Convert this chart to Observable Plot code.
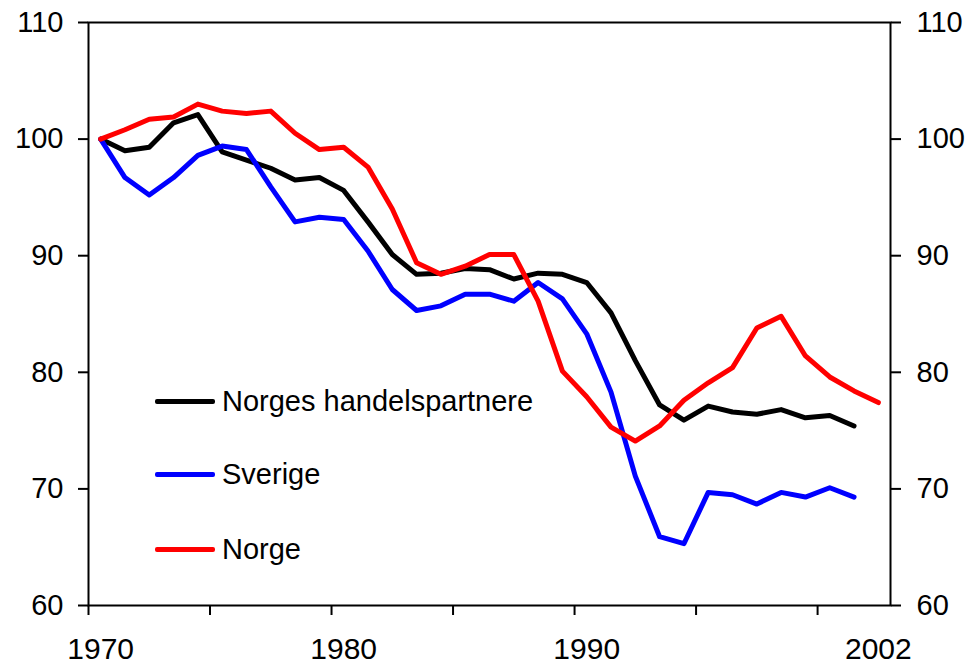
<!DOCTYPE html>
<html><head><meta charset="utf-8">
<script src="https://cdn.jsdelivr.net/npm/d3@7"></script>
<script src="https://cdn.jsdelivr.net/npm/@observablehq/plot@0.6"></script>
<style>
body{margin:0;background:#fff;}
#wrap{position:relative;width:972px;height:664px;font-family:"Liberation Sans",Arial,sans-serif;}
.leg{position:absolute;left:155px;display:flex;align-items:center;font-size:29px;line-height:1;color:#000;}
.leg .sw{display:inline-block;width:60px;height:5px;margin-right:7px;border-radius:2px;}
</style></head><body><div id="wrap"></div>
<script>
const startYear = 1970;
const endYear = 2002;
const seriesNames = ["Norges handelspartnere", "Sverige", "Norge"];
const seriesColors = ["#000000", "#0000ff", "#ff0000"];
const handelspartnere = [100.0, 99.0, 99.3, 101.4, 102.1, 98.9, 98.2, 97.5, 96.5, 96.7, 95.6, 92.9, 90.1, 88.4, 88.5, 88.9, 88.8, 88.0, 88.5, 88.4, 87.7, 85.1, 81.0, 77.2, 75.9, 77.1, 76.6, 76.4, 76.8, 76.1, 76.3, 75.4];
const sverige = [100.0, 96.7, 95.2, 96.7, 98.6, 99.4, 99.1, 95.9, 92.9, 93.3, 93.1, 90.4, 87.1, 85.3, 85.7, 86.7, 86.7, 86.1, 87.7, 86.3, 83.3, 78.3, 71.1, 65.9, 65.3, 69.7, 69.5, 68.7, 69.7, 69.3, 70.1, 69.3];
const norge = [100.0, 100.8, 101.7, 101.9, 103.0, 102.4, 102.2, 102.4, 100.5, 99.1, 99.3, 97.6, 94.0, 89.4, 88.4, 89.1, 90.1, 90.1, 86.1, 80.1, 77.9, 75.3, 74.1, 75.4, 77.6, 79.1, 80.4, 83.8, 84.8, 81.4, 79.6, 78.4, 77.4];
const yTicks = [60, 70, 80, 90, 100, 110];
const xLabels = [1970, 1980, 1990, 2002];

const seriesValues = [handelspartnere, sverige, norge];
const data = [];
seriesValues.forEach((vals, s) => vals.forEach((v, i) => data.push({year: startYear + i, value: v, series: seriesNames[s]})));
const boundaries = d3.range(startYear - 0.5, endYear + 0.5, 5);

const font = '"Liberation Sans", Arial, sans-serif';
const chart = Plot.plot({
  width: 972, height: 664,
  marginLeft: 88, marginRight: 82, marginTop: 22, marginBottom: 59,
  style: {fontFamily: font, background: "#fff", color: "#000"},
  x: {domain: [startYear - 0.5, endYear + 0.5]},
  y: {domain: [60, 110]},
  color: {domain: seriesNames, range: seriesColors},
  marks: [
    Plot.line(data, {x: "year", y: "value", z: "series", stroke: "series", strokeWidth: 5, strokeLinejoin: "round", strokeLinecap: "round"}),
    Plot.frame({stroke: "#000", strokeWidth: 2}),
    Plot.axisY({anchor: "left", ticks: yTicks, tickSize: 10, tickPadding: 15, fontSize: 29, strokeWidth: 2, label: null}),
    Plot.axisY({anchor: "right", ticks: yTicks, tickSize: 10, tickPadding: 16, fontSize: 29, strokeWidth: 2, label: null}),
    Plot.axisX({ticks: boundaries, tickSize: 10, strokeWidth: 2, tickFormat: () => "", label: null}),
    Plot.axisX({ticks: xLabels, tickSize: 0, tickPadding: 32, fontSize: 30, tickFormat: d => String(d), label: null})
  ]
});
const wrap = document.getElementById("wrap");
wrap.appendChild(chart);
const legTops = [401, 474, 549];
seriesNames.forEach((n, i) => {
  const d = document.createElement("div");
  d.className = "leg";
  d.style.top = (legTops[i] - 15) + "px";
  d.style.height = "30px";
  d.innerHTML = `<span class="sw" style="background:${seriesColors[i]}"></span><span>${n}</span>`;
  wrap.appendChild(d);
});
</script></body></html>
